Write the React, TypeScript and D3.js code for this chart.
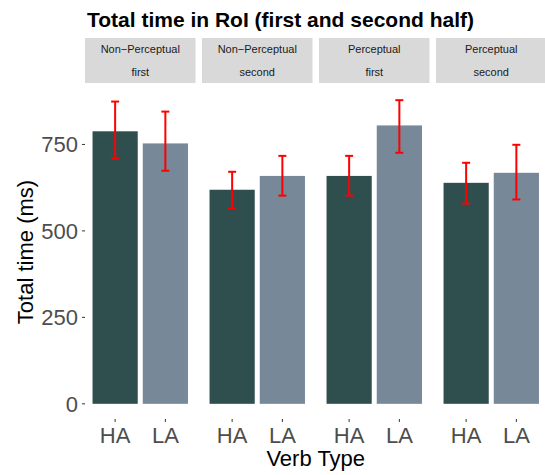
import React from "react";
import * as d3 from "d3";

const panels = ["Non-Perceptual first", "Non-Perceptual second", "Perceptual first", "Perceptual second"];
const panelLine1 = ["Non\u2212Perceptual", "Non\u2212Perceptual", "Perceptual", "Perceptual"];
const panelLine2 = ["first", "second", "first", "second"];
const verbTypes = ["HA", "LA"];
const haMeans = [788, 619, 659, 639];
const laMeans = [753, 659, 805, 668];
const haLower = [709, 565, 602, 579];
const haUpper = [874, 671, 717, 697];
const laLower = [674, 602, 726, 591];
const laUpper = [845, 717, 878, 749];
const yTicks = [0, 250, 500, 750];
const colors = ["#2F4F4F", "#778899"];

const W = 545;
const H = 475;
const font = "'Liberation Sans', Arial, Helvetica, sans-serif";

export default function App() {
  const left = 85;
  const panelW = 110.5;
  const gap = 6.5;
  const plotTop = 85;
  const plotBottom = 419;
  const stripTop = 38;
  const stripBottom = 83;

  const yMax = 878;
  const yMin = 0;
  const span = yMax - yMin;
  const y = d3
    .scaleLinear()
    .domain([yMin - 0.05 * span, yMax + 0.05 * span])
    .range([plotBottom, plotTop]);

  // ggplot-like discrete scale: positions 1,2 with limits [0.4, 2.6]
  const xc = d3.scaleLinear().domain([0.4, 2.6]).range([0, panelW]);
  const barW = xc(1.45) - xc(0.55);
  const capW = 8;

  const series = [
    { means: haMeans, lo: haLower, hi: haUpper },
    { means: laMeans, lo: laLower, hi: laUpper },
  ];

  return (
    <svg width={W} height={H} style={{ display: "block", position: "absolute", left: 0, top: 0 }} fontFamily={font}>
      <rect width={W} height={H} fill="#fff" />
      <text x={87} y={27} fontSize={21} fontWeight="bold" fill="#000">
        Total time in RoI (first and second half)
      </text>
      {panels.map((p, i) => {
        const px = left + i * (panelW + gap);
        return (
          <g key={p} transform={`translate(${px},0)`}>
            <rect x={0} y={stripTop} width={panelW} height={stripBottom - stripTop} fill="#D9D9D9" />
            <text x={panelW / 2} y={53} fontSize={11} fill="#1A1A1A" textAnchor="middle">
              {panelLine1[i]}
            </text>
            <text x={panelW / 2} y={76} fontSize={11} fill="#1A1A1A" textAnchor="middle">
              {panelLine2[i]}
            </text>
            {series.map((s, k) => {
              const cx = xc(k + 1);
              return (
                <g key={k}>
                  <rect
                    x={cx - barW / 2}
                    y={y(s.means[i])}
                    width={barW}
                    height={y(0) - y(s.means[i])}
                    fill={colors[k]}
                  />
                  <line x1={cx} x2={cx} y1={y(s.hi[i])} y2={y(s.lo[i])} stroke="#FF0000" strokeWidth={2} />
                  <line x1={cx - capW / 2} x2={cx + capW / 2} y1={y(s.hi[i])} y2={y(s.hi[i])} stroke="#FF0000" strokeWidth={2} />
                  <line x1={cx - capW / 2} x2={cx + capW / 2} y1={y(s.lo[i])} y2={y(s.lo[i])} stroke="#FF0000" strokeWidth={2} />
                </g>
              );
            })}
            {verbTypes.map((v, k) => {
              const cx = xc(k + 1);
              return (
                <g key={v}>
                  <line x1={cx} x2={cx} y1={plotBottom} y2={plotBottom + 3} stroke="#333" strokeWidth={1} />
                  <text x={cx} y={443} fontSize={22} fill="#4D4D4D" textAnchor="middle">
                    {v}
                  </text>
                </g>
              );
            })}
          </g>
        );
      })}
      {yTicks.map((t) => (
        <g key={t}>
          <line x1={left - 3} x2={left} y1={y(t)} y2={y(t)} stroke="#333" strokeWidth={1} />
          <text x={78} y={y(t) + 8} fontSize={22} fill="#4D4D4D" textAnchor="end">
            {t}
          </text>
        </g>
      ))}
      <text
        transform={`translate(33,${(plotTop + plotBottom) / 2}) rotate(-90)`}
        fontSize={22}
        fill="#000"
        textAnchor="middle"
      >
        Total time (ms)
      </text>
      <text x={left + (4 * panelW + 3 * gap) / 2} y={466} fontSize={22} fill="#000" textAnchor="middle">
        Verb Type
      </text>
    </svg>
  );
}
